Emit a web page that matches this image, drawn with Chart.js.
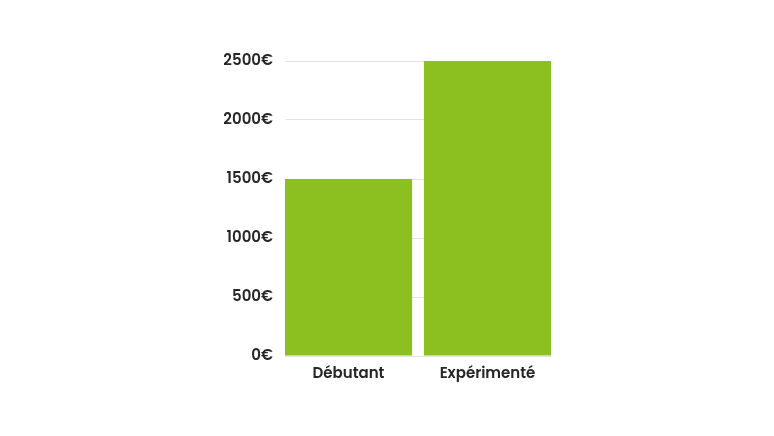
<!DOCTYPE html>
<html>
<head>
<meta charset="utf-8">
<script src="https://cdn.jsdelivr.net/npm/chart.js@4.4.1/dist/chart.umd.min.js"></script>
<style>
	html, body { margin: 0; padding: 0; background: #ffffff; }
	#wrap { width: 774px; height: 436px; }
</style>
</head>
<body>
<div id="wrap"><canvas id="salary-chart" width="774" height="436"></canvas></div>
<script>
	// Données du graphique
	const categories = ['Débutant', 'Expérimenté'];
	const salaires = [1500, 2500];
	const yTicks = [0, 500, 1000, 1500, 2000, 2500];

	const points = categories.map((c, i) => ({ x: i, y: salaires[i] }));

	const fontFamily = "Poppins, Inter, 'Noto Sans', sans-serif";

	const config = {
		type: 'bar',
		data: {
			datasets: [{
				label: 'Salaire',
				data: points,
				backgroundColor: '#8cc021',
				borderWidth: 0,
				categoryPercentage: 1,
				barPercentage: 0.915
			}]
		},
		options: {
			responsive: false,
			animation: false,
			layout: {
				padding: { left: 224, right: 223, top: 61, bottom: 50 }
			},
			plugins: {
				legend: { display: false },
				tooltip: { enabled: false }
			},
			scales: {
				x: {
					type: 'linear',
					min: -0.457,
					max: 1.457,
					offset: false,
					grid: { display: false },
					border: { display: false },
					afterBuildTicks: function (axis) {
						axis.ticks = categories.map((c, i) => ({ value: i }));
					},
					afterFit: function (axis) {
						axis.height = 30;
					},
					ticks: {
						padding: 1,
						color: '#262626',
						font: { family: fontFamily, size: 15, weight: 600 },
						callback: function (value) {
							return categories[value];
						}
					}
				},
				y: {
					min: 0,
					max: 2500,
					grid: {
						color: '#e2e2e2',
						lineWidth: 1,
						drawTicks: false
					},
					border: { display: false },
					afterBuildTicks: function (axis) {
						axis.ticks = yTicks.map(v => ({ value: v }));
					},
					afterFit: function (axis) {
						axis.width = 61;
					},
					ticks: {
						padding: 12,
						color: '#262626',
						font: { family: fontFamily, size: 15, weight: 600 },
						callback: function (value) {
							return value + '€';
						}
					}
				}
			}
		}
	};

	const myChart = new Chart(document.getElementById('salary-chart'), config);
</script>
</body>
</html>
